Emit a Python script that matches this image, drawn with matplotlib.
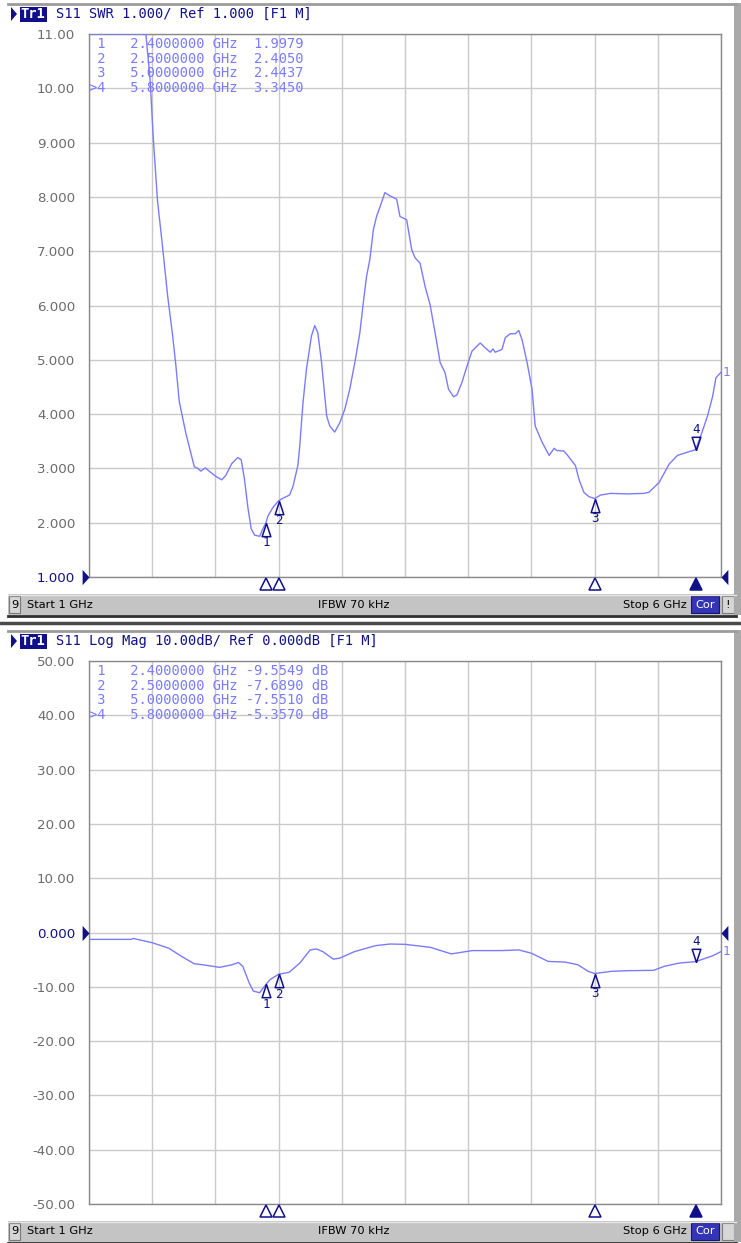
import numpy as np
import matplotlib
matplotlib.use('Agg')
import matplotlib.pyplot as plt
from matplotlib.patches import Rectangle, Polygon
from matplotlib.transforms import offset_copy

W, H = 741, 1243

# S11 trace as SWR (values above 11 are off-scale on the analyzer)
freq_swr = [1.000, 1.100, 1.200, 1.300, 1.350, 1.400, 1.450, 1.484, 1.508, 1.542,
            1.582, 1.622, 1.661, 1.688, 1.714, 1.767, 1.833, 1.860, 1.886, 1.920,
            1.966, 2.005, 2.050, 2.082, 2.130, 2.177, 2.204, 2.230, 2.257, 2.283,
            2.310, 2.350, 2.370, 2.400, 2.415, 2.455, 2.500, 2.534, 2.587, 2.614,
            2.653, 2.667, 2.693, 2.720, 2.760, 2.786, 2.810, 2.840, 2.880, 2.905,
            2.944, 2.984, 3.024, 3.063, 3.103, 3.143, 3.170, 3.196, 3.222, 3.250,
            3.275, 3.300, 3.341, 3.380, 3.434, 3.460, 3.513, 3.553, 3.579, 3.619,
            3.659, 3.698, 3.738, 3.778, 3.817, 3.844, 3.884, 3.910, 3.950, 3.990,
            4.030, 4.095, 4.135, 4.175, 4.196, 4.214, 4.267, 4.294, 4.333, 4.373,
            4.400, 4.426, 4.466, 4.505, 4.530, 4.585, 4.640, 4.680, 4.700, 4.756,
            4.780, 4.849, 4.876, 4.915, 4.955, 5.000, 5.048, 5.127, 5.260, 5.390,
            5.430, 5.510, 5.590, 5.656, 5.736, 5.800, 5.840, 5.894, 5.934, 5.960,
            6.000]
swr = [13.7, 13.7, 13.7, 14.5, 15.5, 13.0, 11.2, 10.14, 9.10, 7.93,
       7.08, 6.18, 5.46, 4.88, 4.23, 3.64, 3.03, 3.00, 2.95, 3.01,
       2.92, 2.85, 2.79, 2.87, 3.09, 3.20, 3.16, 2.80, 2.28, 1.89,
       1.77, 1.75, 1.86, 2.00, 2.12, 2.28, 2.405, 2.45, 2.51, 2.67,
       3.06, 3.41, 4.21, 4.82, 5.44, 5.63, 5.50, 4.95, 3.97, 3.78,
       3.67, 3.84, 4.09, 4.46, 4.95, 5.50, 6.05, 6.54, 6.85, 7.40,
       7.64, 7.80, 8.08, 8.02, 7.96, 7.64, 7.58, 7.03, 6.88, 6.78,
       6.35, 6.02, 5.50, 4.95, 4.76, 4.46, 4.32, 4.35, 4.58, 4.88,
       5.16, 5.31, 5.22, 5.14, 5.20, 5.14, 5.19, 5.41, 5.48, 5.48,
       5.54, 5.37, 4.95, 4.46, 3.78, 3.48, 3.24, 3.37, 3.33, 3.32,
       3.26, 3.05, 2.80, 2.56, 2.48, 2.444, 2.51, 2.54, 2.53, 2.54,
       2.56, 2.74, 3.08, 3.24, 3.30, 3.345, 3.60, 3.97, 4.33, 4.67,
       4.77]

# S11 trace as log magnitude
freq_db = [1.000, 1.333, 1.350, 1.500, 1.633, 1.733, 1.833, 1.900, 2.033, 2.133,
           2.183, 2.217, 2.267, 2.300, 2.350, 2.400, 2.433, 2.500, 2.583, 2.667,
           2.750, 2.800, 2.850, 2.933, 2.983, 3.100, 3.267, 3.383, 3.500, 3.700,
           3.867, 4.033, 4.267, 4.400, 4.500, 4.633, 4.767, 4.867, 4.950, 5.000,
           5.133, 5.267, 5.467, 5.550, 5.667, 5.800, 5.933, 6.000]
s11_db = [-1.27, -1.27, -1.09, -1.88, -2.91, -4.42, -5.76, -5.94, -6.42, -5.94,
          -5.52, -6.24, -9.27, -10.79, -11.09, -9.55, -8.67, -7.69, -7.33, -5.64,
          -3.21, -3.03, -3.52, -4.91, -4.73, -3.52, -2.42, -2.12, -2.18, -2.73,
          -3.94, -3.33, -3.33, -3.21, -3.82, -5.33, -5.45, -5.94, -7.15, -7.55,
          -7.15, -7.03, -6.97, -6.24, -5.64, -5.36, -4.30, -3.52]

marker_freq = [2.4, 2.5, 5.0, 5.8]
marker_swr = [1.9979, 2.4050, 2.4437, 3.3450]
marker_db = [-9.5549, -7.6890, -7.5510, -5.3570]
active_marker = 3

swr_ticks = [1, 2, 3, 4, 5, 6, 7, 8, 9, 10, 11]
swr_labels = ['1.000', '2.000', '3.000', '4.000', '5.000', '6.000',
              '7.000', '8.000', '9.000', '10.00', '11.00']
db_ticks = [-50, -40, -30, -20, -10, 0, 10, 20, 30, 40, 50]
db_labels = ['-50.00', '-40.00', '-30.00', '-20.00', '-10.00', '0.000',
             '10.00', '20.00', '30.00', '40.00', '50.00']

TRACE = '#7b7bff'
NAVY = '#10108a'
GRID = '#cacaca'
LABEL = '#6c6c6c'
MONO = 'DejaVu Sans Mono'


def px_rect(x0, y0, x1, y1):
    return [x0 / W, 1 - y1 / H, (x1 - x0) / W, (y1 - y0) / H]


fig = plt.figure(figsize=(W / 100, H / 100), dpi=100)
fig.patch.set_facecolor('white')

over = fig.add_axes([0, 0, 1, 1], zorder=10)
over.set_xlim(0, W)
over.set_ylim(H, 0)
over.axis('off')


def draw_panel(off, freqs, vals, ylim, ticks, labels, ref, header, mvals, unit):
    ax = fig.add_axes(px_rect(89, 34 + off, 721, 577 + off), zorder=2)
    shown = np.clip(vals, ylim[0], ylim[1])
    ax.plot(freqs, shown, color=TRACE, lw=1.0, zorder=3)
    ax.set_xlim(1, 6)
    ax.set_ylim(*ylim)
    ax.set_xticks(np.linspace(1, 6, 11))
    ax.set_xticklabels([])
    ax.set_yticks(ticks)
    ax.set_yticklabels(labels, fontsize=9.6, color=LABEL)
    ax.tick_params(length=0, pad=10)
    ax.grid(color=GRID, lw=1)
    ax.set_axisbelow(True)
    for s in ax.spines.values():
        s.set_color('#8a8a8a')
        s.set_linewidth(1)
    for t, lab in zip(ticks, ax.get_yticklabels()):
        if t == ref:
            lab.set_color(NAVY)

    # reference level arrows on both sides
    ytr = ax.get_yaxis_transform()
    ax.plot([0], [ref], transform=ytr, marker=[(-0.9, 1), (0, 0), (-0.9, -1), (-0.9, 1)],
            ms=11, color=NAVY, mew=0, clip_on=False, zorder=5)
    ax.plot([1], [ref], transform=ytr, marker=[(0.9, 1), (0, 0), (0.9, -1), (0.9, 1)],
            ms=11, color=NAVY, mew=0, clip_on=False, zorder=5)

    # markers on the trace
    up = [(0, 0), (-0.33, -1), (0.33, -1), (0, 0)]
    down = [(0, 0), (-0.33, 1), (0.33, 1), (0, 0)]
    for i, (f, v) in enumerate(zip(marker_freq, mvals)):
        act = i == active_marker
        ax.plot([f], [v], marker=down if act else up, ms=19, mfc='none',
                mec=NAVY, mew=1.1, ls='none', zorder=6)
        ax.annotate(str(i + 1), (f, v), xytext=(0, 20 if act else -20),
                    textcoords='offset pixels', ha='center', va='center',
                    color=NAVY, fontsize=9, family=MONO, zorder=6)

    # marker flags below the x axis
    xtr = offset_copy(ax.get_xaxis_transform(), fig=fig, x=0, y=-7, units='dots')
    for i, f in enumerate(marker_freq):
        act = i == active_marker
        ax.plot([f], [0], transform=xtr, marker='^', ms=9, mew=1.1, mec=NAVY,
                mfc=NAVY if act else 'white', clip_on=False, zorder=6)

    # trace end label
    ax.annotate('1', (freqs[-1], shown[-1]), xytext=(2, 0), textcoords='offset pixels',
                ha='left', va='center', color=TRACE, fontsize=9, family=MONO,
                annotation_clip=False)

    # marker table
    for i, (f, v) in enumerate(zip(marker_freq, mvals)):
        pre = '>' if i == active_marker else ' '
        row = f"{pre}{i + 1}   {f:.7f} GHz {v:7.4f}{unit}"
        over.text(89, 44 + off + i * 14.5, row, family=MONO, fontsize=9.9,
                  color=TRACE, ha='left', va='center')

    # header line
    hy = 14 + off
    over.add_patch(Polygon([(11, hy - 7), (17, hy), (11, hy + 7)], closed=True,
                           color=NAVY, lw=0))
    over.add_patch(Rectangle((19.5, hy - 7.5), 27, 15, color=NAVY, lw=0))
    over.text(33, hy, 'Tr1', family=MONO, fontsize=9.9, color='white',
              fontweight='bold', ha='center', va='center')
    over.text(56, hy, header, family=MONO, fontsize=9.9, color=NAVY,
              ha='left', va='center')

    # status bar
    sy = 594 + off
    over.add_patch(Rectangle((8, sy), 728, 21, facecolor='#c4c4c4', edgecolor='none'))
    over.plot([8, 736], [sy + 0.5, sy + 0.5], color='#e6e6e6', lw=1)
    over.plot([8, 736], [sy + 21.5, sy + 21.5], color='#2e2e2e', lw=2)
    over.add_patch(Rectangle((9, sy + 2), 11, 17, facecolor='#d6d6d6', edgecolor='#7a7a7a', lw=0.8))
    over.text(14.5, sy + 10.5, '9', fontsize=8.2, color='black', ha='center', va='center')
    over.text(27, sy + 10.5, 'Start 1 GHz', fontsize=8.2, color='black', ha='left', va='center')
    over.text(318, sy + 10.5, 'IFBW 70 kHz', fontsize=8.2, color='black', ha='left', va='center')
    over.text(687, sy + 10.5, 'Stop 6 GHz', fontsize=8.2, color='black', ha='right', va='center')
    over.add_patch(Rectangle((691, sy + 2), 28, 17, facecolor='#3434b6', edgecolor='#15156e', lw=0.8))
    over.text(705, sy + 10.5, 'Cor', fontsize=8.2, color='white', ha='center', va='center')
    over.add_patch(Rectangle((722, sy + 2), 12, 17, facecolor='#d6d6d6', edgecolor='#7a7a7a', lw=0.8))
    if off == 0:
        over.text(728, sy + 10.5, '!', fontsize=8.2, color='black', ha='center', va='center')

    # window frame
    over.add_patch(Rectangle((734, 3 + off), 7, 612, facecolor='#a9a9a9', edgecolor='none'))
    over.plot([8, 736], [3.5 + off, 3.5 + off], color='#9c9c9c', lw=2)
    return ax


draw_panel(0, freq_swr, swr, (1, 11), swr_ticks, swr_labels, 1,
           'S11 SWR 1.000/ Ref 1.000 [F1 M]', marker_swr, '')
draw_panel(627, freq_db, s11_db, (-50, 50), db_ticks, db_labels, 0,
           'S11 Log Mag 10.00dB/ Ref 0.000dB [F1 M]', marker_db, ' dB')

# separator between the two windows
over.plot([0, W], [622.5, 622.5], color='#4a4a4a', lw=2.5)

fig.savefig('out.png', dpi=100, facecolor='white')
